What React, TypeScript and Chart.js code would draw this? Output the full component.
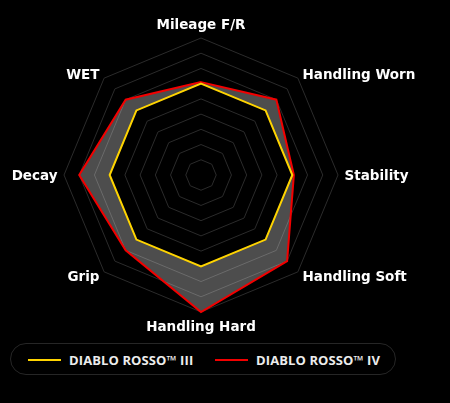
import { useEffect, useRef } from "react";
import { Chart, registerables } from "chart.js";

Chart.register(...registerables);

const categories = [
  "Mileage F/R",
  "Handling Worn",
  "Stability",
  "Handling Soft",
  "Handling Hard",
  "Grip",
  "Decay",
  "WET",
];
const rosso3 = [6, 6, 6, 6, 6, 6, 6, 6];
const rosso4 = [6.1, 7, 6.1, 8, 9, 7, 8, 7];
const seriesNames = ["DIABLO ROSSO™ III", "DIABLO ROSSO™ IV"];
const seriesColors = ["#ffd400", "#f20000"];

const LABEL_FONT = "bold 13.5px 'DejaVu Sans', sans-serif";

// draws the axis names ourselves so the diagonal ones sit centred on the spoke
const outsideLabels = {
  id: "outsideLabels",
  afterDatasetsDraw(chart: any) {
    const scale = chart.scales.r;
    const ctx = chart.ctx;
    ctx.save();
    ctx.font = LABEL_FONT;
    ctx.fillStyle = "#ffffff";
    ctx.textBaseline = "alphabetic";
    chart.data.labels.forEach((label: string, i: number) => {
      const s = Math.sin(scale.getIndexAngle(i));
      const vertical = Math.abs(s) < 0.01;
      const p = scale.getPointPosition(i, vertical ? 151 : 143.5);
      ctx.textAlign = vertical ? "center" : s > 0 ? "left" : "right";
      ctx.fillText(label, p.x, p.y + 5);
    });
    ctx.restore();
  },
};

export default function App() {
  const canvasRef = useRef<HTMLCanvasElement>(null);
  const chartRef = useRef<Chart | null>(null);

  useEffect(() => {
    if (!canvasRef.current) return;
    chartRef.current?.destroy();
    chartRef.current = new Chart(canvasRef.current, {
      type: "radar",
      data: {
        labels: categories,
        datasets: [
          {
            label: seriesNames[0],
            data: rosso3,
            borderColor: seriesColors[0],
            borderWidth: 2,
            pointRadius: 0,
            fill: false,
          },
          {
            label: seriesNames[1],
            data: rosso4,
            borderColor: seriesColors[1],
            borderWidth: 2,
            pointRadius: 0,
            backgroundColor: "rgba(255,255,255,0.3)",
            fill: "-1",
          },
        ],
      },
      options: {
        animation: false,
        responsive: true,
        maintainAspectRatio: false,
        layout: { padding: { left: 64, top: 38, right: 112, bottom: 28 } },
        plugins: { legend: { display: false }, tooltip: { enabled: false } },
        elements: { line: { tension: 0 } },
        scales: {
          r: {
            min: 0,
            max: 9,
            ticks: { display: false, stepSize: 1 },
            grid: { color: "#2b2b2b", lineWidth: 1 },
            angleLines: { display: false },
            pointLabels: { display: false },
          },
        },
      },
      plugins: [outsideLabels],
    });
    return () => {
      chartRef.current?.destroy();
    };
  }, []);

  return (
    <div style={{ position: "fixed", inset: 0, background: "#000", fontFamily: "'Open Sans', sans-serif" }}>
      <div style={{ position: "absolute", left: 0, top: 0, width: 450, height: 340 }}>
        <canvas ref={canvasRef} />
      </div>
      <div
        style={{
          position: "absolute",
          left: 10,
          top: 343,
          width: 384,
          height: 30,
          border: "1px solid #262626",
          borderRadius: 16,
        }}
      />
      {seriesNames.map((name, i) => (
        <div key={name}>
          <div
            style={{
              position: "absolute",
              left: i === 0 ? 28 : 215,
              top: 359,
              width: 33,
              height: 2,
              background: seriesColors[i],
            }}
          />
          <div
            style={{
              position: "absolute",
              left: i === 0 ? 69 : 256,
              top: 350,
              height: 20,
              lineHeight: "20px",
              fontSize: 13,
              fontWeight: 700,
              letterSpacing: 0.1,
              color: "#ececec",
              whiteSpace: "nowrap",
            }}
          >
            {name}
          </div>
        </div>
      ))}
    </div>
  );
}
